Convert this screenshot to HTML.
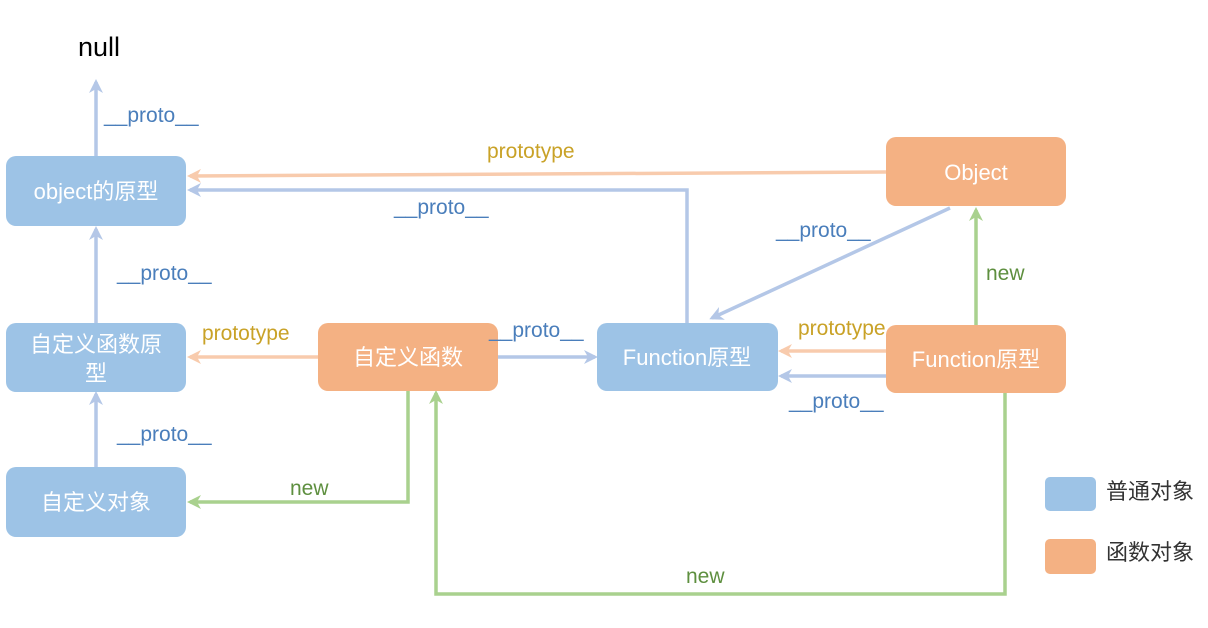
<!DOCTYPE html>
<html><head><meta charset="utf-8"><style>
html,body{margin:0;padding:0;background:#fff;}
svg{display:block;font-family:"Liberation Sans","Noto Sans CJK SC",sans-serif;}
</style></head><body>
<svg width="1208" height="628" viewBox="0 0 1208 628" xmlns="http://www.w3.org/2000/svg">
<defs>
<marker id="ab" markerWidth="14" markerHeight="14" refX="11" refY="7" orient="auto" markerUnits="userSpaceOnUse"><path d="M0,0 L14,7 L0,14 L4,7 z" fill="#b4c7e7"/></marker>
<marker id="ao" markerWidth="14" markerHeight="14" refX="11" refY="7" orient="auto" markerUnits="userSpaceOnUse"><path d="M0,0 L14,7 L0,14 L4,7 z" fill="#f8cbad"/></marker>
<marker id="ag" markerWidth="14" markerHeight="14" refX="11" refY="7" orient="auto" markerUnits="userSpaceOnUse"><path d="M0,0 L14,7 L0,14 L4,7 z" fill="#a9d18e"/></marker>
</defs>
<g fill="none" stroke-width="3.5">
<line x1="96" y1="156" x2="96" y2="82" stroke="#b4c7e7" marker-end="url(#ab)"/>
<line x1="96" y1="323" x2="96" y2="229" stroke="#b4c7e7" marker-end="url(#ab)"/>
<line x1="96" y1="467" x2="96" y2="394" stroke="#b4c7e7" marker-end="url(#ab)"/>
<line x1="886" y1="172" x2="190" y2="176" stroke="#f8cbad" marker-end="url(#ao)"/>
<polyline points="687,323 687,190 190,190" stroke="#b4c7e7" marker-end="url(#ab)"/>
<line x1="318" y1="357" x2="190" y2="357" stroke="#f8cbad" marker-end="url(#ao)"/>
<line x1="498" y1="357" x2="595" y2="357" stroke="#b4c7e7" marker-end="url(#ab)"/>
<line x1="950" y1="208" x2="712" y2="318" stroke="#b4c7e7" marker-end="url(#ab)"/>
<line x1="976" y1="325" x2="976" y2="210" stroke="#a9d18e" marker-end="url(#ag)"/>
<line x1="886" y1="351" x2="781" y2="351" stroke="#f8cbad" marker-end="url(#ao)"/>
<line x1="886" y1="376" x2="781" y2="376" stroke="#b4c7e7" marker-end="url(#ab)"/>
<polyline points="408,391 408,502 190,502" stroke="#a9d18e" marker-end="url(#ag)"/>
<polyline points="1005,393 1005,594 436,594 436,393" stroke="#a9d18e" marker-end="url(#ag)"/>
</g>
<g>
<rect x="6" y="156" width="180" height="70" rx="10" fill="#9dc3e6"/>
<rect x="6" y="323" width="180" height="69" rx="10" fill="#9dc3e6"/>
<rect x="6" y="467" width="180" height="70" rx="10" fill="#9dc3e6"/>
<rect x="318" y="323" width="180" height="68" rx="10" fill="#f4b183"/>
<rect x="597" y="323" width="181" height="68" rx="10" fill="#9dc3e6"/>
<rect x="886" y="137" width="180" height="69" rx="10" fill="#f4b183"/>
<rect x="886" y="325" width="180" height="68" rx="10" fill="#f4b183"/>
<rect x="1045" y="477" width="51" height="34" rx="5" fill="#9dc3e6"/>
<rect x="1045" y="539" width="51" height="35" rx="5" fill="#f4b183"/>
</g>
<g fill="#fff" font-size="22" text-anchor="middle">
<text x="96" y="199">object的原型</text>
<text x="96" y="352">自定义函数原</text>
<text x="96" y="381">型</text>
<text x="96" y="510">自定义对象</text>
<text x="408" y="365">自定义函数</text>
<text x="687" y="365">Function原型</text>
<text x="976" y="180">Object</text>
<text x="976" y="367">Function原型</text>
</g>
<text x="78" y="56" font-size="27" fill="#000">null</text>
<g font-size="22" fill="#333">
<text x="1106" y="499">普通对象</text>
<text x="1106" y="560">函数对象</text>
</g>
<g font-size="21" fill="#4a7ebb">
<text x="104" y="122">__proto__</text>
<text x="117" y="280">__proto__</text>
<text x="117" y="441">__proto__</text>
<text x="394" y="214">__proto__</text>
<text x="489" y="337">__proto__</text>
<text x="776" y="237">__proto__</text>
<text x="789" y="408">__proto__</text>
</g>
<g font-size="21" fill="#c9a227">
<text x="487" y="158">prototype</text>
<text x="202" y="340">prototype</text>
<text x="798" y="335">prototype</text>
</g>
<g font-size="21" fill="#5e8f3f">
<text x="986" y="280">new</text>
<text x="290" y="495">new</text>
<text x="686" y="583">new</text>
</g>
</svg>
</body></html>
